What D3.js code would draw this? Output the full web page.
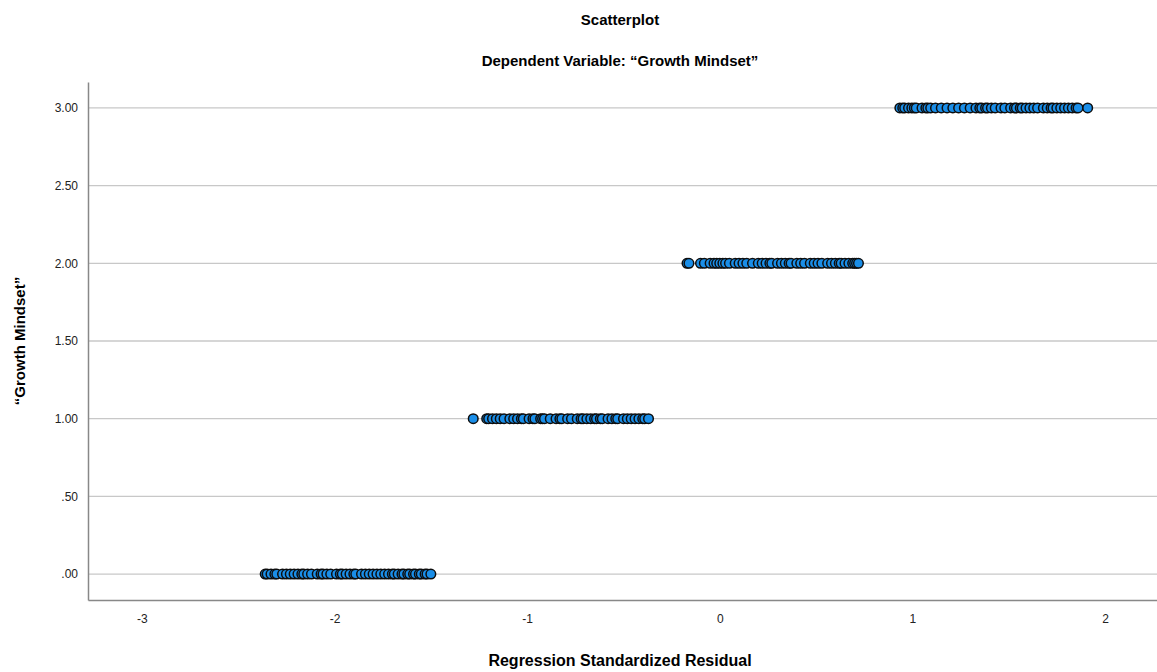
<!DOCTYPE html>
<html lang="en">
<head>
  <meta charset="UTF-8">
  <title>Scatterplot</title>
  <script src="https://d3js.org/d3.v7.min.js"></script>
  <style>
    body { margin: 0; background: #fff; font-family: "Liberation Sans", Arial, sans-serif; }
    svg { display: block; }
  </style>
</head>
<body>
  <svg></svg>
  <script>
    // y levels of the dependent variable and the residuals seen at each level
    const levels = [0, 1, 2, 3];
    const residuals0 = [-2.36, -2.35, -2.33, -2.31, -2.30, -2.27, -2.25, -2.23, -2.21, -2.19, -2.17, -2.16, -2.14, -2.12, -2.09, -2.07, -2.06, -2.04, -2.02, -1.99, -1.97, -1.96, -1.94, -1.92, -1.90, -1.89, -1.86, -1.84, -1.82, -1.80, -1.78, -1.76, -1.74, -1.72, -1.70, -1.69, -1.67, -1.65, -1.64, -1.62, -1.61, -1.59, -1.58, -1.56, -1.55, -1.53, -1.52, -1.50];
    const residuals1 = [-1.28, -1.21, -1.20, -1.18, -1.16, -1.14, -1.12, -1.09, -1.07, -1.05, -1.03, -1.02, -0.99, -0.97, -0.96, -0.93, -0.92, -0.91, -0.88, -0.85, -0.83, -0.82, -0.79, -0.77, -0.74, -0.72, -0.71, -0.69, -0.67, -0.65, -0.64, -0.62, -0.61, -0.58, -0.56, -0.54, -0.53, -0.50, -0.48, -0.46, -0.44, -0.42, -0.40, -0.39, -0.37];
    const residuals2 = [-0.17, -0.16, -0.10, -0.08, -0.05, -0.03, -0.016, 0.0, 0.016, 0.03, 0.05, 0.08, 0.10, 0.12, 0.14, 0.17, 0.2, 0.22, 0.24, 0.26, 0.27, 0.3, 0.32, 0.34, 0.36, 0.37, 0.40, 0.42, 0.44, 0.47, 0.49, 0.51, 0.53, 0.56, 0.58, 0.6, 0.62, 0.63, 0.65, 0.67, 0.69, 0.70, 0.71, 0.72];
    const residuals3 = [0.935, 0.95, 0.96, 0.98, 0.997, 1.01, 1.02, 1.05, 1.07, 1.08, 1.095, 1.12, 1.15, 1.18, 1.21, 1.24, 1.27, 1.30, 1.33, 1.35, 1.36, 1.38, 1.39, 1.41, 1.43, 1.46, 1.48, 1.51, 1.53, 1.54, 1.56, 1.57, 1.59, 1.61, 1.63, 1.65, 1.68, 1.70, 1.72, 1.73, 1.75, 1.77, 1.79, 1.81, 1.83, 1.85, 1.86, 1.91];
    const xTicks = [-3, -2, -1, 0, 1, 2];
    const yTicks = [0, 0.5, 1, 1.5, 2, 2.5, 3];

    const width = 1157, height = 672;
    const margin = { top: 82, right: 0, bottom: 72, left: 88 };

    const svg = d3.select("svg")
      .attr("width", width)
      .attr("height", height);

    const x = d3.scaleLinear()
      .domain([-3.28, 2.27])
      .range([margin.left, width - margin.right]);

    const y = d3.scaleLinear()
      .domain([-0.167, 3.167])
      .range([height - margin.bottom, margin.top]);

    // gridlines
    svg.append("g")
      .selectAll("line")
      .data(yTicks)
      .join("line")
      .attr("x1", margin.left)
      .attr("x2", width - margin.right)
      .attr("y1", d => y(d))
      .attr("y2", d => y(d))
      .attr("stroke", "#c8c8c8")
      .attr("stroke-width", 1.3);

    // y axis
    const yAxis = svg.append("g")
      .attr("transform", `translate(${margin.left},0)`)
      .call(d3.axisLeft(y).tickValues(yTicks).tickSize(0).tickPadding(10)
        .tickFormat(d => d3.format(".2f")(d).replace(/^0/, "")));
    yAxis.select(".domain").attr("stroke", "#888").attr("stroke-width", 1.5);
    yAxis.selectAll("text").attr("font-size", 12).attr("fill", "#222")
      .attr("font-family", "'Liberation Sans', Arial, sans-serif");

    // x axis
    const xAxis = svg.append("g")
      .attr("transform", `translate(0,${height - margin.bottom})`)
      .call(d3.axisBottom(x).tickValues(xTicks).tickSize(0).tickPadding(14)
        .tickFormat(d3.format("d")));
    xAxis.select(".domain").attr("stroke", "#888").attr("stroke-width", 1.5);
    xAxis.selectAll("text").attr("font-size", 12).attr("fill", "#222")
      .attr("font-family", "'Liberation Sans', Arial, sans-serif")
      .text(d => String(d));

    // points
    const points = [residuals0, residuals1, residuals2, residuals3]
      .flatMap((r, i) => r.map(v => ({ x: v, y: levels[i] })));

    svg.append("g")
      .selectAll("circle")
      .data(points)
      .join("circle")
      .attr("cx", d => x(d.x))
      .attr("cy", d => y(d.y))
      .attr("r", 4.8)
      .attr("fill", "#1a8ee8")
      .attr("stroke", "#0d0d0d")
      .attr("stroke-width", 1.5);

    // titles
    svg.append("text")
      .attr("x", 620).attr("y", 25)
      .attr("text-anchor", "middle")
      .attr("font-size", 15).attr("font-weight", "bold")
      .text("Scatterplot");

    svg.append("text")
      .attr("x", 620).attr("y", 66)
      .attr("text-anchor", "middle")
      .attr("font-size", 15).attr("font-weight", "bold")
      .text("Dependent Variable: “Growth Mindset”");

    svg.append("text")
      .attr("x", 620).attr("y", 666)
      .attr("text-anchor", "middle")
      .attr("font-size", 16).attr("font-weight", "bold")
      .text("Regression Standardized Residual");

    svg.append("text")
      .attr("transform", `translate(25,${(margin.top + height - margin.bottom) / 2}) rotate(-90)`)
      .attr("text-anchor", "middle")
      .attr("font-size", 15).attr("font-weight", "bold")
      .text("“Growth Mindset”");
  </script>
</body>
</html>
